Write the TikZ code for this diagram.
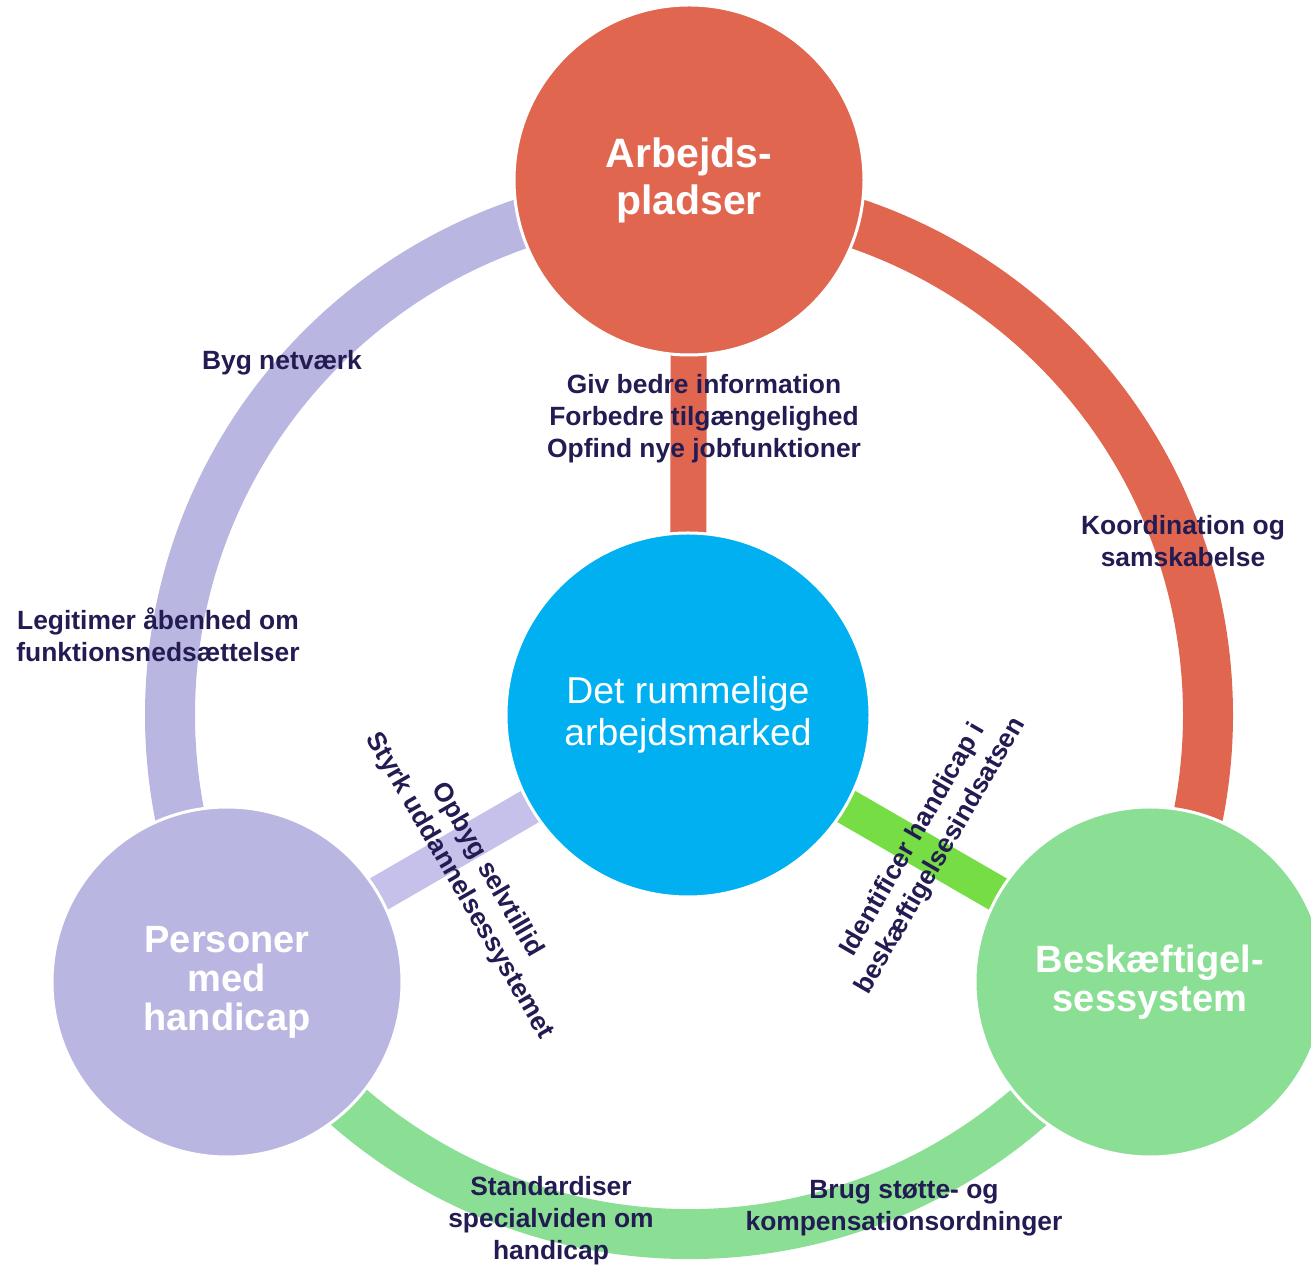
\documentclass[tikz,border=0pt]{standalone}
\usepackage{fontspec}
\setmainfont{Liberation Sans}
\usetikzlibrary{backgrounds}
\definecolor{arbred}{HTML}{E06650}
\definecolor{corecyan}{HTML}{00B0F0}
\definecolor{persviolet}{HTML}{BAB6E2}
\definecolor{spokeviolet}{HTML}{C6C1EB}
\definecolor{beskgreen}{HTML}{8ADF95}
\definecolor{spokegreen}{HTML}{77DD44}
\definecolor{labelink}{HTML}{221C52}
\begin{document}
\begin{tikzpicture}[
  x=0.5pt, y=0.5pt,
  disc/.style={circle, draw=white, line width=1.5pt, inner sep=0pt,
               minimum size=175pt, align=center, text=white,
               font=\bfseries\fontsize{19}{19.5}\selectfont},
  coredisc/.style={disc, minimum size=182pt,
               font=\fontsize{18.7}{21}\selectfont},
  ringarc/.style={line width=25pt},
  spoke/.style={line width=18pt},
  lbl/.style={align=center, text=labelink, inner sep=0pt,
              font=\bfseries\fontsize{13.2}{16}\selectfont}
]
\useasboundingbox (0,0) rectangle (1311,1268);
\coordinate (hub) at (689,553);
% circles
\node[disc, fill=arbred, font=\bfseries\fontsize{20.5}{23.5}\selectfont]
     (arb) at (689,1088) {Arbejds-\\pladser};
\node[coredisc, fill=corecyan] (core) at (688,553) {Det rummelige\\arbejdsmarked};
\node[disc, fill=persviolet] (pers) at (227,286) {Personer\\med\\handicap};
\node[disc, fill=beskgreen] (besk) at (1150,286) {Beskæftigel-\\sessystem};
% ring and spokes behind the circles
\begin{scope}[on background layer]
\draw[ringarc, persviolet] ([shift={(90:519)}]hub) arc[start angle=90, end angle=210, radius=259.5pt];
\draw[ringarc, arbred] ([shift={(90:519)}]hub) arc[start angle=90, end angle=-30, radius=259.5pt];
\draw[ringarc, beskgreen] ([shift={(210:519)}]hub) arc[start angle=210, end angle=330, radius=259.5pt];
\draw[spoke, arbred] (arb.center) -- (core.center);
\draw[spoke, spokeviolet] (core.center) -- (pers.center);
\draw[spoke, spokegreen] (core.center) -- (besk.center);
\end{scope}
% labels
\node[lbl] (info) at (704,849) {Giv bedre information\\Forbedre tilgængelighed\\Opfind nye jobfunktioner};
\node[lbl] (netv) at (282,905) {Byg netværk};
\node[lbl] (legit) at (158,633) {Legitimer åbenhed om\\funktionsnedsættelser};
\node[lbl] (koord) at (1183,727) {Koordination og\\samskabelse};
\node[lbl] (stand) at (551,47) {Standardiser\\specialviden om\\handicap};
\node[lbl] (brug) at (904,60) {Brug støtte- og\\kompensationsordninger};
\node[lbl, rotate=-60] (selv) at (473,390) {Opbyg selvtillid\\Styrk uddannelsessystemet};
\node[lbl, rotate=60] (ident) at (927,420) {Identificer handicap i\\beskæftigelsesindsatsen};
\end{tikzpicture}
\end{document}
